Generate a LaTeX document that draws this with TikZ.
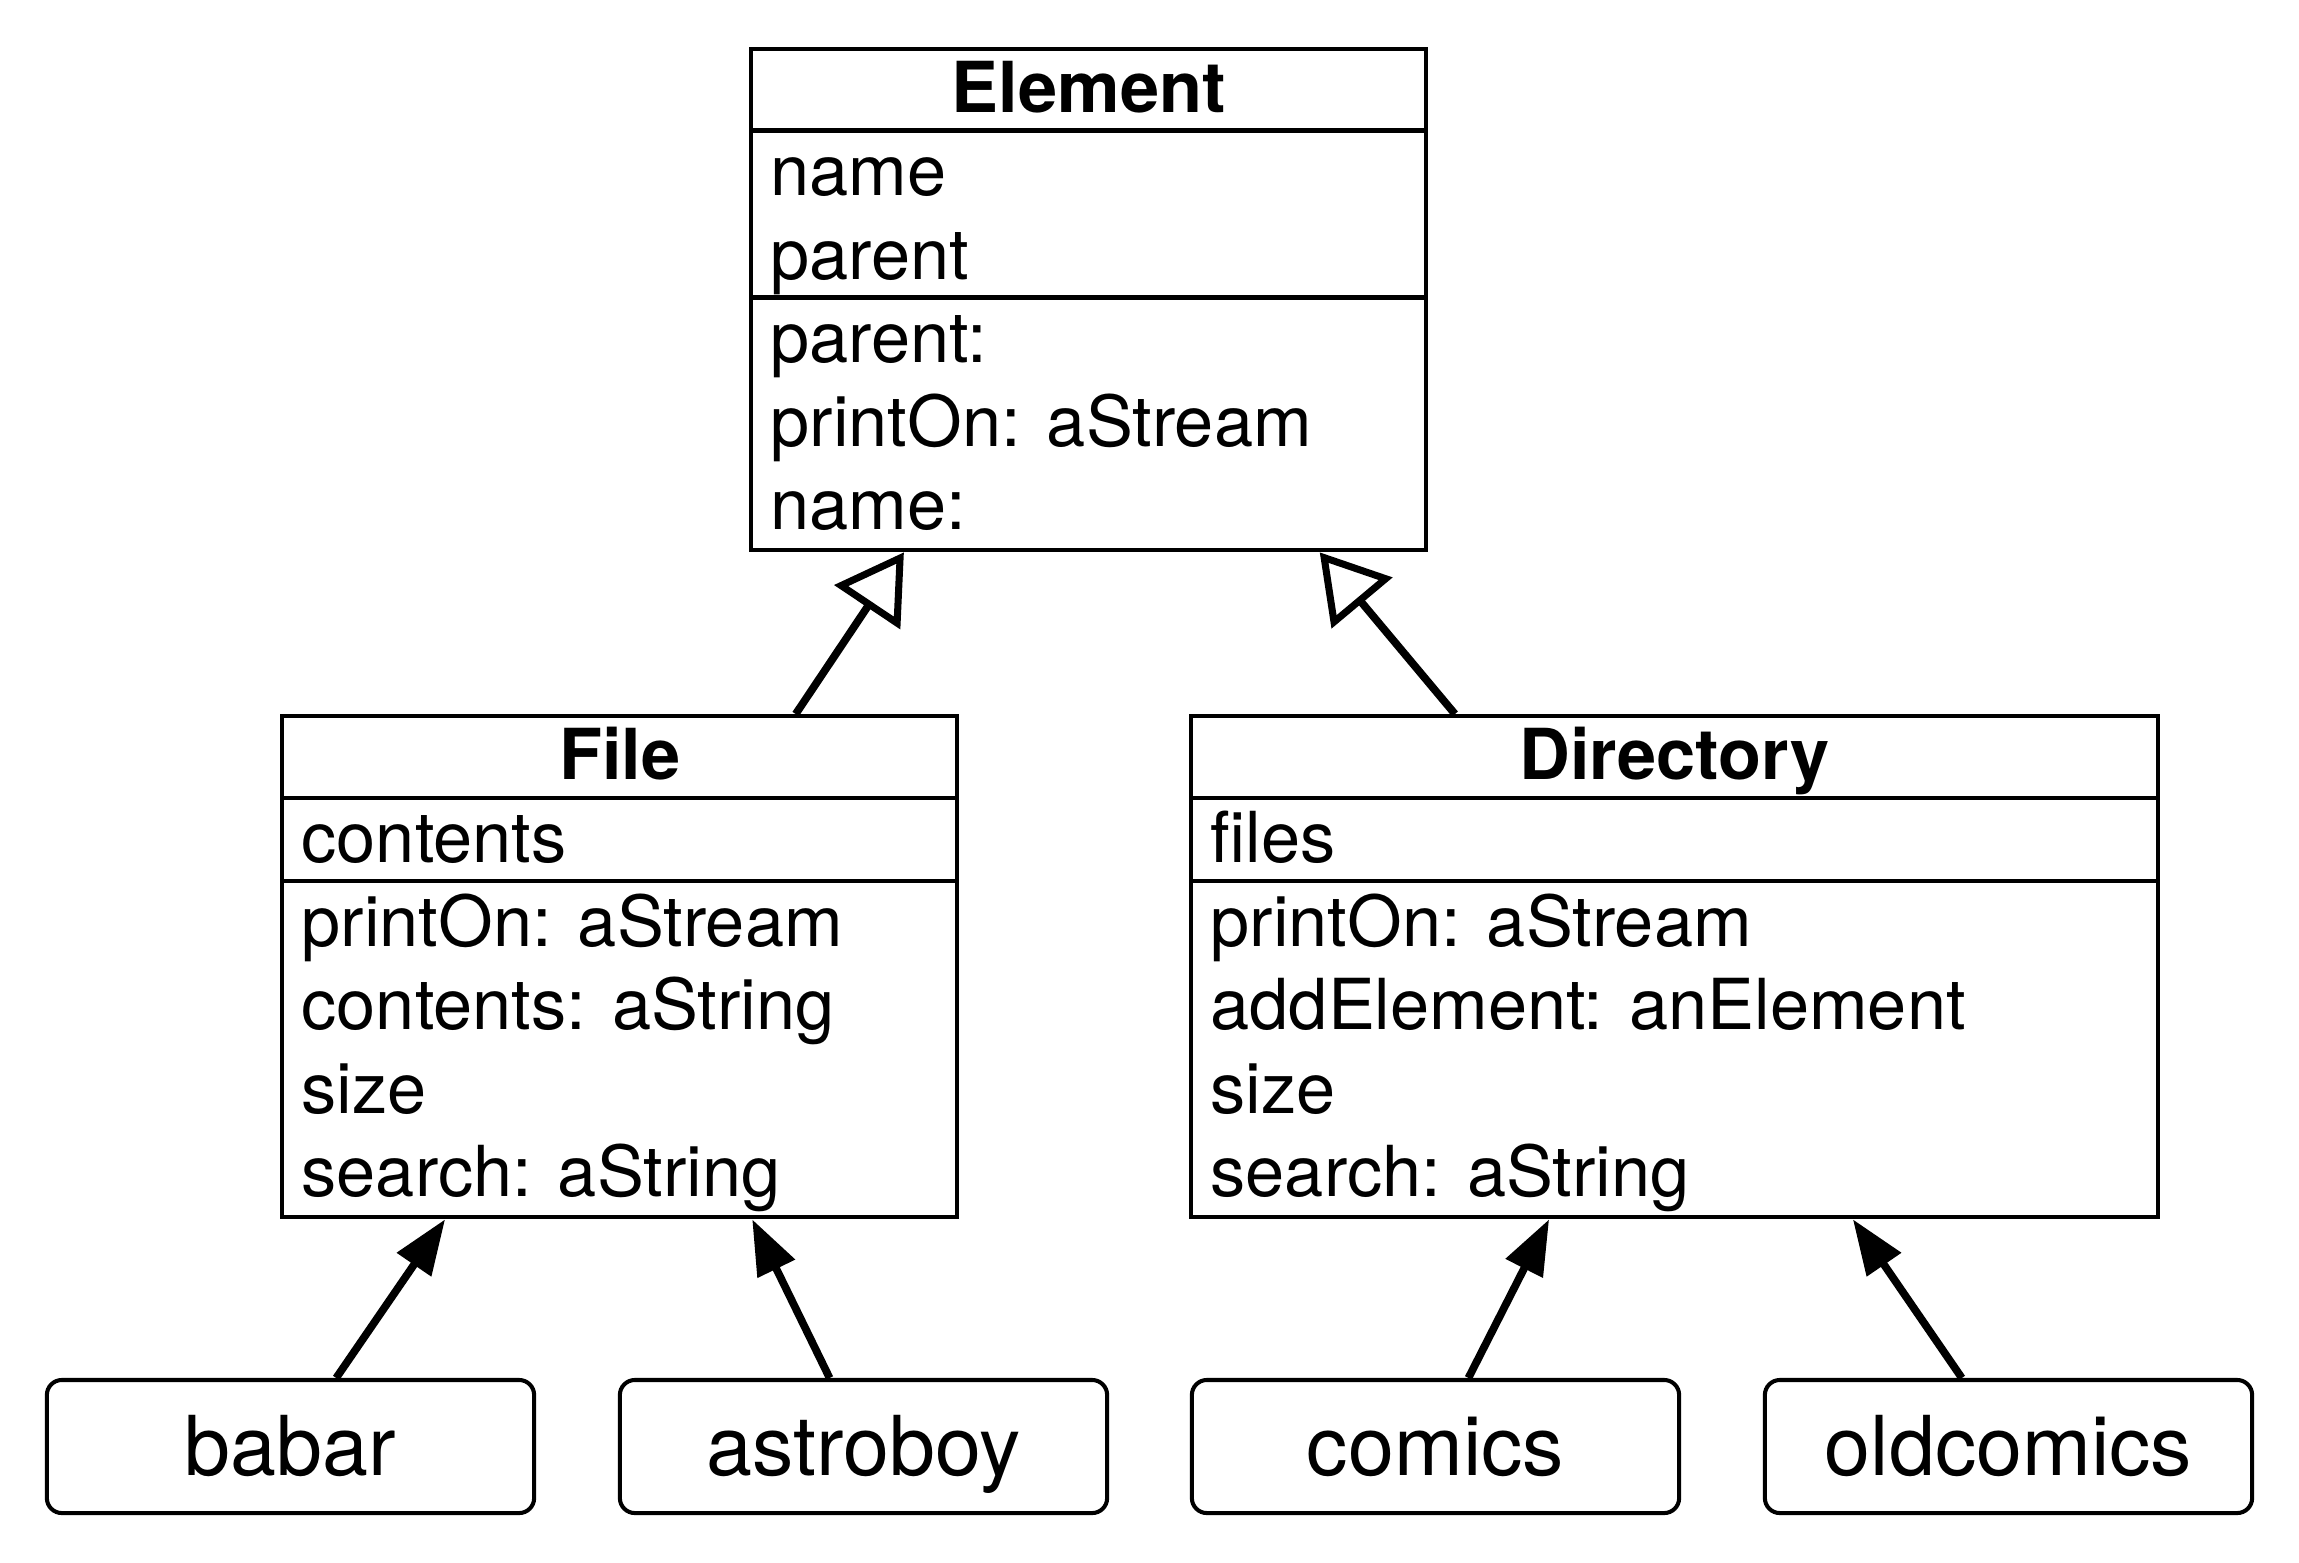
\documentclass[tikz,border=0pt]{standalone}
\usepackage{fontspec}
\setmainfont{TeX Gyre Heros}
\usetikzlibrary{arrows.meta,calc}

\begin{document}
\begin{tikzpicture}[x=0.01cm,y=-0.01cm,
  box/.style={draw, line width=1.15pt, inner sep=0pt, anchor=north west},
  divider/.style={line width=1.15pt},
  title/.style={anchor=base, font=\fontsize{20}{24}\selectfont\bfseries, inner sep=0pt},
  entry/.style={anchor=base west, font=\fontsize{20}{24}\selectfont, inner sep=0pt},
  instance/.style={draw, line width=1.15pt, rounded corners=0.15cm,
    minimum width=4.87cm, minimum height=1.33cm, text height=0.57cm, text depth=0pt,
    inner sep=0pt, font=\fontsize{23.5}{28}\selectfont},
  inherits/.style={line width=2.2pt,
    -{Triangle[open, length=0.66cm, width=0.78cm, line width=2pt]}},
  instof/.style={line width=2.2pt, -{Triangle[length=0.55cm, width=0.40cm]}},
]
\useasboundingbox (0,0) rectangle (2299,1562);

% ---- class Element
\node[box, minimum width=6.75cm, minimum height=5.01cm] (element) at (749,47) {};
\draw[divider] ($(element.north west)+(0,83.5)$) -- ($(element.north east)+(0,83.5)$);
\draw[divider] ($(element.north west)+(0,250.5)$) -- ($(element.north east)+(0,250.5)$);
\node[title] (element-t) at ($(element.north)+(0,65)$) {Element};
\node[entry] (element-a1) at ($(element.north west)+(21,148.5)$) {name};
\node[entry] (element-a2) at ($(element.north west)+(21,232)$) {parent};
\node[entry] (element-m1) at ($(element.north west)+(21,315.5)$) {parent:};
\node[entry] (element-m2) at ($(element.north west)+(21,399)$) {printOn: aStream};
\node[entry] (element-m3) at ($(element.north west)+(21,482.5)$) {name:};

% ---- class File
\node[box, minimum width=6.75cm, minimum height=5.01cm] (file) at (280,714) {};
\draw[divider] ($(file.north west)+(0,83.5)$) -- ($(file.north east)+(0,83.5)$);
\draw[divider] ($(file.north west)+(0,167)$) -- ($(file.north east)+(0,167)$);
\node[title] (file-t) at ($(file.north)+(0,65)$) {File};
\node[entry] (file-a1) at ($(file.north west)+(21,148.5)$) {contents};
\node[entry] (file-m1) at ($(file.north west)+(21,232)$) {printOn: aStream};
\node[entry] (file-m2) at ($(file.north west)+(21,315.5)$) {contents: aString};
\node[entry] (file-m3) at ($(file.north west)+(21,399)$) {size};
\node[entry] (file-m4) at ($(file.north west)+(21,482.5)$) {search: aString};

% ---- class Directory
\node[box, minimum width=9.66cm, minimum height=5.01cm] (dir) at (1189,714) {};
\draw[divider] ($(dir.north west)+(0,83.5)$) -- ($(dir.north east)+(0,83.5)$);
\draw[divider] ($(dir.north west)+(0,167)$) -- ($(dir.north east)+(0,167)$);
\node[title] (dir-t) at ($(dir.north)+(0,65)$) {Directory};
\node[entry] (dir-a1) at ($(dir.north west)+(21,148.5)$) {files};
\node[entry] (dir-m1) at ($(dir.north west)+(21,232)$) {printOn: aStream};
\node[entry] (dir-m2) at ($(dir.north west)+(21,315.5)$) {addElement: anElement};
\node[entry] (dir-m3) at ($(dir.north west)+(21,399)$) {size};
\node[entry] (dir-m4) at ($(dir.north west)+(21,482.5)$) {search: aString};

% ---- instances
\node[instance] (babar) at (290.5,1446.5) {babar};
\node[instance] (astroboy) at (863.5,1446.5) {astroboy};
\node[instance] (comics) at (1435.5,1446.5) {comics};
\node[instance] (oldcomics) at (2008.5,1446.5) {oldcomics};

% ---- inheritance
\draw[inherits] ($(file.north west)!0.759!(file.north east)$)
  -- ($(element.south west)!0.228!(element.south east)$);
\draw[inherits] ($(dir.north west)!0.274!(dir.north east)$)
  -- ($(element.south west)!0.84!(element.south east)$);

% ---- instance-of links
\draw[instof] ($(babar.north west)!0.593!(babar.north east)$)
  -- ($(file.south west)!0.243!(file.south east)$);
\draw[instof] ($(astroboy.north west)!0.431!(astroboy.north east)$)
  -- ($(file.south west)!0.695!(file.south east)$);
\draw[instof] ($(comics.north west)!0.567!(comics.north east)$)
  -- ($(dir.south west)!0.371!(dir.south east)$);
\draw[instof] ($(oldcomics.north west)!0.405!(oldcomics.north east)$)
  -- ($(dir.south west)!0.684!(dir.south east)$);
\end{tikzpicture}
\end{document}
